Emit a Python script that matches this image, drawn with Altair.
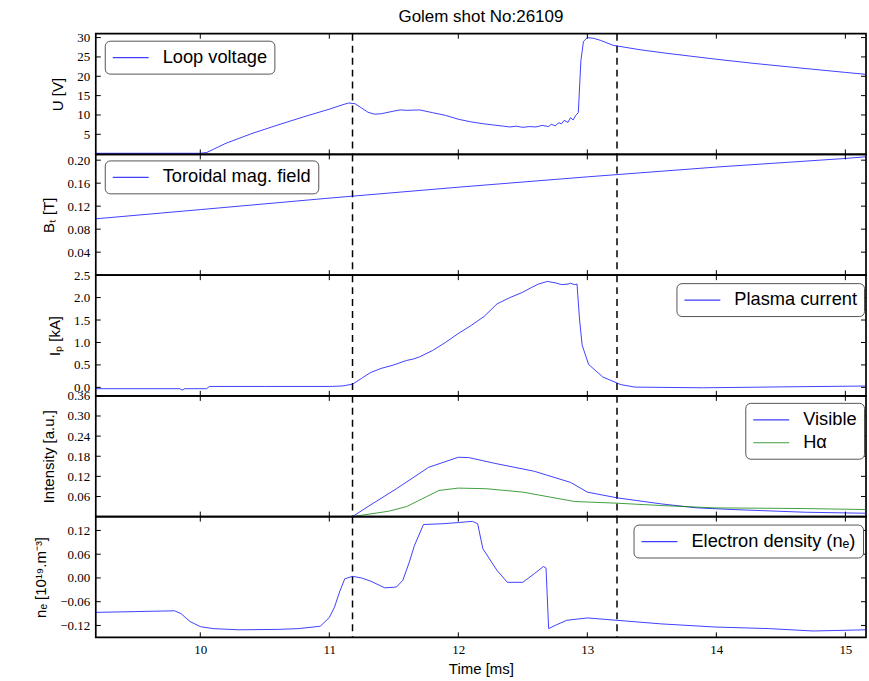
import altair as alt
import pandas as pd

# ---------------- signals (time in ms) ----------------
t_loop = [9.19, 9.5, 9.8, 10.0, 10.05, 10.1, 10.2, 10.4, 10.6, 10.8, 11.0, 11.1, 11.15,
          11.2, 11.25, 11.3, 11.35, 11.4, 11.5, 11.55, 11.6, 11.7, 11.8, 11.9, 12.0, 12.1,
          12.2, 12.3, 12.35, 12.4, 12.45, 12.5, 12.55, 12.6, 12.65, 12.7, 12.72, 12.75,
          12.78, 12.8, 12.82, 12.85, 12.87, 12.89, 12.91, 12.93, 12.95, 12.97, 13.0, 13.05,
          13.1, 13.2, 13.4, 13.6, 13.8, 14.0, 14.3, 14.6, 15.0, 15.16]
u_loop = [0.1, 0.1, 0.1, 0.1, 0.3, 1.1, 2.7, 5.2, 7.4, 9.5, 11.5, 12.6, 13.1,
          12.9, 11.8, 10.7, 10.2, 10.3, 11.0, 11.3, 11.2, 11.3, 10.6, 9.9, 8.9, 8.2,
          7.7, 7.3, 7.1, 6.9, 7.1, 6.8, 7.0, 6.9, 7.3, 7.0, 7.6, 7.2,
          8.0, 7.7, 8.6, 8.1, 9.3, 8.7, 9.9, 10.6, 24.0, 29.0, 30.0, 29.8,
          29.3, 28.0, 26.9, 26.0, 25.2, 24.4, 23.3, 22.3, 21.0, 20.5]

t_bt = [9.19, 10.0, 11.0, 12.0, 13.0, 14.0, 15.0, 15.16]
bt = [0.098, 0.114, 0.134, 0.153, 0.171, 0.188, 0.203, 0.206]

t_ip = [9.19, 9.84, 9.86, 9.88, 10.05, 10.07, 10.5, 11.0, 11.1, 11.18, 11.25, 11.32, 11.4,
        11.5, 11.6, 11.65, 11.7, 11.8, 11.9, 12.0, 12.1, 12.2, 12.3, 12.4, 12.5, 12.57,
        12.62, 12.69, 12.75, 12.8, 12.85, 12.87, 12.9, 12.92, 12.94, 12.96, 13.01, 13.12,
        13.26, 13.37, 13.9, 14.5, 15.16]
ip = [-0.03, -0.03, -0.06, -0.03, -0.03, 0.02, 0.02, 0.02, 0.03, 0.07, 0.2, 0.33, 0.42,
      0.5, 0.6, 0.63, 0.68, 0.82, 1.0, 1.2, 1.38, 1.58, 1.86, 2.0, 2.12, 2.23,
      2.3, 2.36, 2.33, 2.29, 2.3, 2.32, 2.29, 2.3, 1.5, 0.94, 0.51, 0.23,
      0.06, 0.005, -0.01, 0.01, 0.03]

t_vis = [11.18, 11.3, 11.52, 11.77, 12.0, 12.08, 12.28, 12.59, 12.87, 13.0,
         13.23, 13.57, 13.85, 14.13, 14.69, 15.16]
vis = [0.0, 0.03, 0.083, 0.147, 0.177, 0.176, 0.159, 0.135, 0.102, 0.073,
       0.056, 0.038, 0.026, 0.021, 0.013, 0.010]

t_ha = [11.18, 11.46, 11.6, 11.85, 12.0, 12.22, 12.5, 12.9, 13.23, 13.57,
        13.99, 14.69, 15.16]
ha = [0.0, 0.016, 0.030, 0.078, 0.085, 0.083, 0.073, 0.045, 0.040, 0.033,
      0.026, 0.024, 0.021]

t_ne = [9.19, 9.5, 9.8, 9.85, 9.92, 10.0, 10.1, 10.3, 10.6, 10.76, 10.93, 11.0, 11.04,
        11.08, 11.12, 11.18, 11.25, 11.32, 11.43, 11.52, 11.57, 11.62, 11.66, 11.73,
        11.88, 12.0, 12.11, 12.15, 12.19, 12.3, 12.38, 12.5, 12.59, 12.66, 12.68, 12.7,
        12.75, 12.84, 13.0, 13.23, 13.57, 13.99, 14.41, 14.75, 15.16]
ne = [-0.087, -0.085, -0.083, -0.09, -0.11, -0.123, -0.128, -0.131, -0.13, -0.128,
      -0.122, -0.1, -0.074, -0.035, -0.002, 0.004, 0.0, -0.008, -0.025, -0.023, -0.006,
      0.04, 0.082, 0.135, 0.137, 0.14, 0.143, 0.137, 0.074, 0.019, -0.011, -0.011,
      0.011, 0.029, 0.025, -0.128, -0.12, -0.107, -0.101, -0.107, -0.116, -0.124,
      -0.128, -0.134, -0.131]

x_ticks = [10, 11, 12, 13, 14, 15]
marker_times = [11.18, 13.23]

# ---------------- layout / style ----------------
X_DOMAIN = [9.19, 15.16]
PANEL_W = 772
PANEL_H = 121
TICK_LEN = 5
SANS = "Liberation Sans"
SERIF = "Liberation Serif"
BLUE = "#0000ff"
GREEN = "#008000"


def panel(series, y_domain, y_ticks, y_fmt, y_title, legend_xy, bottom=False):
    df = pd.concat(
        [pd.DataFrame({"t": t, "v": v, "series": name}) for name, t, v, _ in series],
        ignore_index=True,
    )
    names = [s[0] for s in series]
    colors = [s[3] for s in series]

    y_axis = alt.Axis(values=y_ticks, format=y_fmt, title=y_title, tickSize=0,
                      domain=False, grid=False, labelPadding=6, titlePadding=11,
                      labelFont=SERIF, labelFontSize=13, labelColor="black",
                      titleFont=SANS, titleFontSize=15, titleFontWeight="normal",
                      titleColor="black")
    y_enc = alt.Y("v:Q", scale=alt.Scale(domain=y_domain, nice=False, zero=False),
                  axis=y_axis)
    if bottom:
        x_axis = alt.Axis(values=x_ticks, format="d", title="Time [ms]", tickSize=0,
                          domain=False, grid=False, labelPadding=6, titlePadding=5,
                          labelFont=SERIF, labelFontSize=13, labelColor="black",
                          titleFont=SANS, titleFontSize=15, titleFontWeight="normal",
                          titleColor="black")
    else:
        x_axis = None
    x_enc = alt.X("t:Q", scale=alt.Scale(domain=X_DOMAIN, nice=False, zero=False),
                  axis=x_axis)

    lines = alt.Chart(df).mark_line(strokeWidth=1, opacity=0.75).encode(
        x=x_enc,
        y=y_enc,
        color=alt.Color(
            "series:N",
            sort=names,
            scale=alt.Scale(domain=names, range=colors),
            legend=alt.Legend(
                title=None, orient="none", legendX=legend_xy[0], legendY=legend_xy[1],
                symbolType="M-1,0H3", symbolSize=324, symbolStrokeWidth=1.2,
                symbolOpacity=0.75,
                labelFont=SANS, labelFontSize=18.3, labelColor="black", labelOffset=31,
                labelLimit=400,
                padding=7, cornerRadius=5, strokeColor="#555555", fillColor="white",
                rowPadding=4,
            ),
        ),
        detail="series:N",
    )

    markers = alt.Chart(pd.DataFrame({"t": marker_times})).mark_rule(
        color="black", strokeWidth=1.5, strokeDash=[7, 5]
    ).encode(x=x_enc)

    xt = pd.DataFrame({"t": x_ticks})
    x_top = alt.Chart(xt).mark_rule(color="black", strokeWidth=1).encode(
        x=x_enc, y=alt.value(0), y2=alt.value(TICK_LEN))
    x_bot = alt.Chart(xt).mark_rule(color="black", strokeWidth=1).encode(
        x=x_enc, y=alt.value(PANEL_H - TICK_LEN), y2=alt.value(PANEL_H))

    yt = pd.DataFrame({"v": y_ticks})
    y_left = alt.Chart(yt).mark_rule(color="black", strokeWidth=1).encode(
        y=y_enc, x=alt.value(0), x2=alt.value(TICK_LEN))
    y_right = alt.Chart(yt).mark_rule(color="black", strokeWidth=1).encode(
        y=y_enc, x=alt.value(PANEL_W - TICK_LEN), x2=alt.value(PANEL_W))

    return alt.layer(markers, lines, x_top, x_bot, y_left, y_right).properties(
        width=PANEL_W, height=PANEL_H)


p1 = panel([("Loop voltage", t_loop, u_loop, BLUE)], [-0.2, 31.0],
           [5, 10, 15, 20, 25, 30], "d", "U [V]", (9, 7)).properties(
    title=alt.Title("Golem shot No:26109", font=SANS, fontSize=17,
                    fontWeight="normal", color="black", offset=6, anchor="middle"))
p2 = panel([("Toroidal mag. field", t_bt, bt, BLUE)], [0.0, 0.21],
           [0.04, 0.08, 0.12, 0.16, 0.20], ".2f", "Bₜ [T]", (9, 6))
p3 = panel([("Plasma current", t_ip, ip, BLUE)], [-0.19, 2.5],
           [0.0, 0.5, 1.0, 1.5, 2.0, 2.5], ".1f", "Iₚ [kA]", (582, 8))
p4 = panel([("Visible", t_vis, vis, BLUE), ("Hα", t_ha, ha, GREEN)], [0.0, 0.36],
           [0.06, 0.12, 0.18, 0.24, 0.30, 0.36], ".2f", "Intensity [a.u.]", (651, 7))
p5 = panel([("Electron density (nₑ)", t_ne, ne, BLUE)], [-0.15, 0.155],
           [-0.12, -0.06, 0.0, 0.06, 0.12], ".2f", "nₑ [10¹⁹.m⁻³]", (539, 8),
           bottom=True)

chart = (
    alt.vconcat(p1, p2, p3, p4, p5, spacing=0, bounds="flush")
    .resolve_scale(color="independent", y="independent")
    .properties(padding={"left": 33, "top": 6, "right": 0, "bottom": 5},
                background="white")
    .configure_view(stroke="black", strokeWidth=1.7)
)

chart.save("out.html", embed_options={"renderer": "svg", "actions": False})
